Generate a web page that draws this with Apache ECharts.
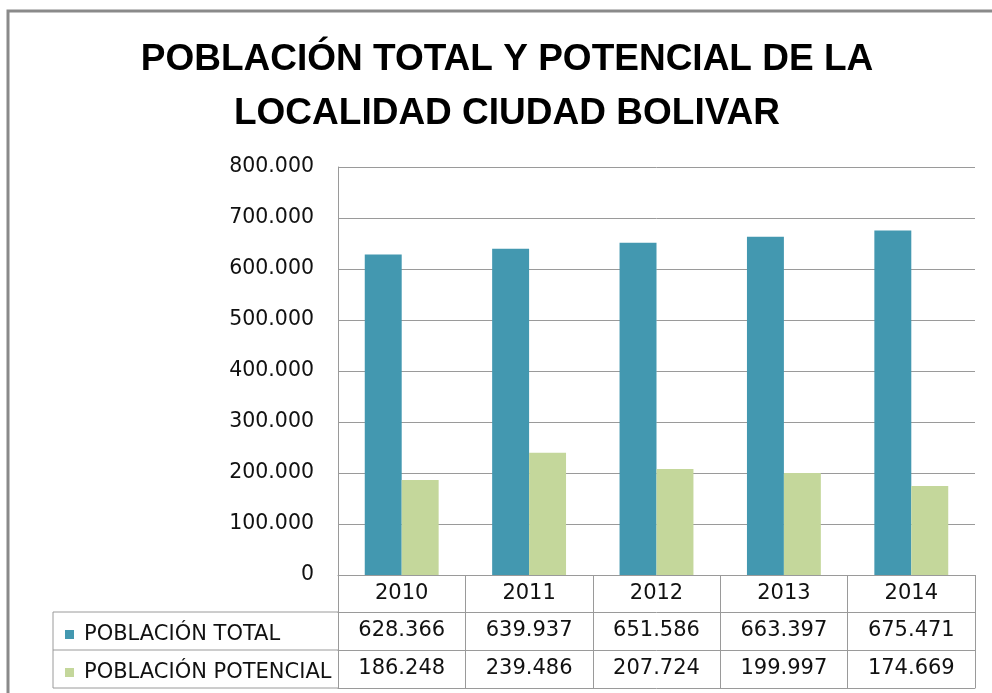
<!DOCTYPE html>
<html>
<head>
<meta charset="utf-8">
<script src="https://cdn.jsdelivr.net/npm/echarts@6/dist/echarts.min.js"></script>
<style>
  html, body { margin: 0; background: #fff; }
  #chart { width: 992px; height: 693px; }
</style>
</head>
<body>
<div id="chart"></div>
<script>
const years = ['2010', '2011', '2012', '2013', '2014'];
const seriesNames = ['POBLACIÓN TOTAL', 'POBLACIÓN POTENCIAL'];
const total = [628366, 639937, 651586, 663397, 675471];
const potencial = [186248, 239486, 207724, 199997, 174669];
const yMax = 800000;
const yStep = 100000;

// formato con punto de miles: 628366 -> 628.366
function fmt(v) {
  return v === 0 ? '0' : String(v).replace(/\B(?=(\d{3})+(?!\d))/g, '.');
}

const lineGray = '#9a9a9a';
const font = 'DejaVu Sans';

let mychart = echarts.init(document.getElementById('chart'));
let option = {
  animation: false,
  color: ['#4398b0', '#c4d79b'],
  legend: {
    orient: 'vertical',
    left: 60,
    top: 619,
    icon: 'rect',
    itemWidth: 9,
    itemHeight: 9,
    itemGap: 17,
    data: seriesNames,
    textStyle: { fontFamily: font, fontSize: 21, lineHeight: 21, color: '#111', padding: [0, 0, 0, 5] }
  },
  grid: { left: 338, right: 17, top: 167, bottom: 118 },
  xAxis: [
    {
      type: 'category',
      position: 'bottom',
      data: years,
      axisLine: { show: true, lineStyle: { color: lineGray } },
      axisTick: { show: true, interval: 0, length: 113, lineStyle: { color: lineGray } },
      axisLabel: { fontFamily: font, fontSize: 21, color: '#111', margin: 8 }
    },
    {
      type: 'category',
      position: 'bottom',
      data: total.map(fmt),
      offset: 37,
      axisLine: { show: true, lineStyle: { color: lineGray } },
      axisTick: { show: false },
      axisLabel: { fontFamily: font, fontSize: 21, color: '#111', margin: 8, interval: 0 }
    },
    {
      type: 'category',
      position: 'bottom',
      data: potencial.map(fmt),
      offset: 75,
      axisLine: { show: true, lineStyle: { color: lineGray } },
      axisTick: { show: false },
      axisLabel: { fontFamily: font, fontSize: 21, color: '#111', margin: 8, interval: 0 }
    },
    {
      type: 'category',
      position: 'bottom',
      data: years,
      offset: 113,
      axisLine: { show: true, lineStyle: { color: lineGray } },
      axisTick: { show: false },
      axisLabel: { show: false }
    }
  ],
  yAxis: {
    type: 'value',
    min: 0,
    max: yMax,
    interval: yStep,
    axisLine: { show: true, lineStyle: { color: lineGray } },
    axisTick: { show: false },
    axisLabel: { fontFamily: font, fontSize: 20.5, color: '#111', margin: 24, formatter: fmt },
    splitLine: { show: true, lineStyle: { color: lineGray } }
  },
  graphic: [
    // titulo
    {
      type: 'text',
      x: 507,
      y: 33,
      style: {
        text: 'POBLACIÓN TOTAL Y POTENCIAL DE LA\nLOCALIDAD CIUDAD BOLIVAR',
        textAlign: 'center',
        textVerticalAlign: 'top',
        font: 'bold 37px "Liberation Sans", sans-serif',
        lineHeight: 54,
        fill: '#000'
      }
    },
    // marco exterior
    { type: 'polyline', shape: { points: [[8, 693], [8, 11], [992, 11]] }, style: { stroke: '#8a8a8a', lineWidth: 3, fill: null } },
    // columna izquierda de la tabla
    { type: 'line', shape: { x1: 53, y1: 612, x2: 338, y2: 612 }, style: { stroke: lineGray } },
    { type: 'line', shape: { x1: 53, y1: 650, x2: 338, y2: 650 }, style: { stroke: lineGray } },
    { type: 'line', shape: { x1: 53, y1: 688, x2: 338, y2: 688 }, style: { stroke: lineGray } },
    { type: 'line', shape: { x1: 53, y1: 612, x2: 53, y2: 688 }, style: { stroke: lineGray } }
  ],
  series: [
    {
      name: seriesNames[0],
      type: 'bar',
      data: total,
      barGap: '0%',
      barCategoryGap: '42%'
    },
    {
      name: seriesNames[1],
      type: 'bar',
      data: potencial,
      barGap: '0%',
      barCategoryGap: '42%'
    }
  ]
};
mychart.setOption(option);
</script>
</body>
</html>
